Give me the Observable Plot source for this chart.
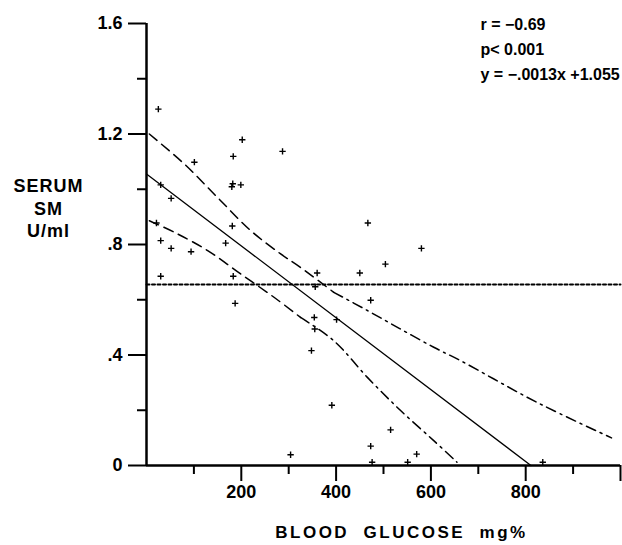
<!DOCTYPE html>
<html><head><meta charset="utf-8">
<script src="https://cdn.jsdelivr.net/npm/d3@7"></script>
<script src="https://cdn.jsdelivr.net/npm/@observablehq/plot@0.6"></script>
<style>
body{margin:0;background:#fff}
#chart svg{font-family:"Liberation Sans",Arial,sans-serif;background:#fff}
</style>
</head><body><div id="chart"></div>
<script>
// Scatter points: blood glucose (mg%) vs serum SM (U/ml)
const glucose = [25,30,52,101,183,202,287,180,182,199,21,30,52,94,167,181,30,183,187,467,580,504,450,360,356,473,354,355,401,348,391,304,515,473,570,476,551,836];
const serumSM = [1.29,1.016,0.967,1.098,1.119,1.179,1.137,1.009,1.02,1.016,0.878,0.814,0.786,0.774,0.805,0.867,0.685,0.685,0.587,0.878,0.786,0.729,0.697,0.697,0.647,0.598,0.536,0.494,0.528,0.416,0.218,0.039,0.129,0.070,0.041,0.012,0.012,0.012];

// Regression line endpoints (y = -.0013x + 1.055)
const fitX = [0, 811];
const fitY = [1.055, 0];

// Horizontal dotted reference level
const refLevel = 0.655;
const refX = [0, 1000];

// Confidence band curves
const upperX = [6, 80, 150, 220, 283, 325, 395, 466, 536, 606, 662, 732, 803, 873, 981];
const upperY = [1.200, 1.091, 0.970, 0.850, 0.766, 0.717, 0.627, 0.561, 0.494, 0.428, 0.380, 0.314, 0.247, 0.187, 0.100];
const upperSeg = ["a","a","a","a","a","a","a|b","b","b","b","b","b","b","b","b"];
const lowerX = [6, 59, 129, 199, 269, 325, 395, 466, 536, 606, 655];
const lowerY = [0.886, 0.844, 0.778, 0.693, 0.609, 0.536, 0.452, 0.319, 0.199, 0.090, 0.012];
const lowerSeg = ["a","a","a","a","a","a|b","b","b","b","b","b"];

// Ticks
const xMajor = [200, 400, 600, 800];
const xMinor = [100, 300, 500, 700, 900];
const yMajor = [0, 0.4, 0.8, 1.2, 1.6];
const yMinor = [0.2, 0.6, 1.0, 1.4];

const annotation = ["r = \u22120.69", "p< 0.001", "y = \u2212.0013x +1.055"];
const xLabel = "BLOOD  GLUCOSE  mg%";
const yLabel = ["SERUM", "SM", "U/ml"];

// build segmented rows (a point shared by two segments is duplicated)
function segRows(xs, ys, segs) {
  const rows = [];
  xs.forEach((x, i) => segs[i].split("|").forEach(s => rows.push({x, y: ys[i], s})));
  return rows;
}
const upperRows = segRows(upperX, upperY, upperSeg);
const lowerRows = segRows(lowerX, lowerY, lowerSeg);
const points = glucose.map((g, i) => ({g, v: serumSM[i]}));
const fitRows = fitX.map((x, i) => ({x, y: fitY[i]}));

const yFmt = d => d === 0 ? "0" : (d >= 1 ? d.toFixed(1) : d.toFixed(1).replace(/^0/, ""));

const chart = Plot.plot({
  width: 622, height: 545,
  marginLeft: 146, marginRight: 2, marginTop: 23, marginBottom: 80,
  x: {domain: [0, 1000]},
  y: {domain: [0, 1.6]},
  style: {fontSize: "17px", fontWeight: "bold", fontFamily: "'Liberation Sans', Arial, sans-serif", color: "#000"},
  marks: [
    Plot.axisX(xMajor, {tickSize: 16, tickPadding: 4, tickFormat: d => String(d), strokeWidth: 2, label: null, fontSize: 18}),
    Plot.axisX([1000], {tickSize: 16, tickFormat: () => "", strokeWidth: 2, label: null}),
    Plot.axisX(xMinor, {tickSize: 9, tickFormat: () => "", strokeWidth: 2, label: null}),
    Plot.axisY(yMajor, {tickSize: 18, tickPadding: 6, tickFormat: yFmt, strokeWidth: 2, label: null, fontSize: 18}),
    Plot.axisY(yMinor, {tickSize: 9, tickFormat: () => "", strokeWidth: 2, label: null}),
    Plot.ruleY([0], {x1: 0, x2: 1000, strokeWidth: 2.5}),
    Plot.ruleX([0], {y1: 0, y2: 1.6, strokeWidth: 2.5}),
    Plot.line(refX.map(x => ({x, y: refLevel})), {x: "x", y: "y", stroke: "#000", strokeWidth: 2, strokeDasharray: "3,2.5"}),
    Plot.line(fitRows, {x: "x", y: "y", stroke: "#000", strokeWidth: 1.3}),
    Plot.line(upperRows.filter(d => d.s === "a"), {x: "x", y: "y", curve: "catmull-rom", stroke: "#000", strokeWidth: 1.5, strokeDasharray: "10,6"}),
    Plot.line(upperRows.filter(d => d.s === "b"), {x: "x", y: "y", curve: "catmull-rom", stroke: "#000", strokeWidth: 1.5, strokeDasharray: "10,5,2,5"}),
    Plot.line(lowerRows.filter(d => d.s === "a"), {x: "x", y: "y", curve: "catmull-rom", stroke: "#000", strokeWidth: 1.5, strokeDasharray: "10,6"}),
    Plot.line(lowerRows.filter(d => d.s === "b"), {x: "x", y: "y", curve: "catmull-rom", stroke: "#000", strokeWidth: 1.5, strokeDasharray: "10,5,2,5"}),
    Plot.dot(points, {x: "g", y: "v", symbol: "plus", r: 2.2, stroke: "#000", strokeWidth: 1.4, fill: "none"}),
    Plot.text([annotation.join("\n")], {frameAnchor: "top-left", dx: 334, dy: -11, textAnchor: "start", lineAnchor: "top", lineHeight: 1.55, fontSize: 16, fontWeight: "bold"}),
    Plot.text([yLabel.join("\n")], {frameAnchor: "top-left", dx: -98, dy: 153, textAnchor: "middle", lineAnchor: "top", lineHeight: 1.25, fontSize: 18, fontWeight: "bold"}),
    Plot.text([xLabel], {frameAnchor: "bottom", dx: 18, dy: 67, textAnchor: "middle", lineAnchor: "middle", fontSize: 17, fontWeight: "bold"})
  ]
});
document.getElementById("chart").appendChild(chart);
// letter spacing for the labels, as in the original typesetting
d3.select(chart).selectAll("text").filter(function(){ return this.textContent === xLabel; })
  .attr("letter-spacing", "2.5px").style("white-space", "pre");
d3.select(chart).selectAll("tspan").filter(function(){ return yLabel.includes(this.textContent); })
  .attr("letter-spacing", "1px");
</script>
</body></html>
